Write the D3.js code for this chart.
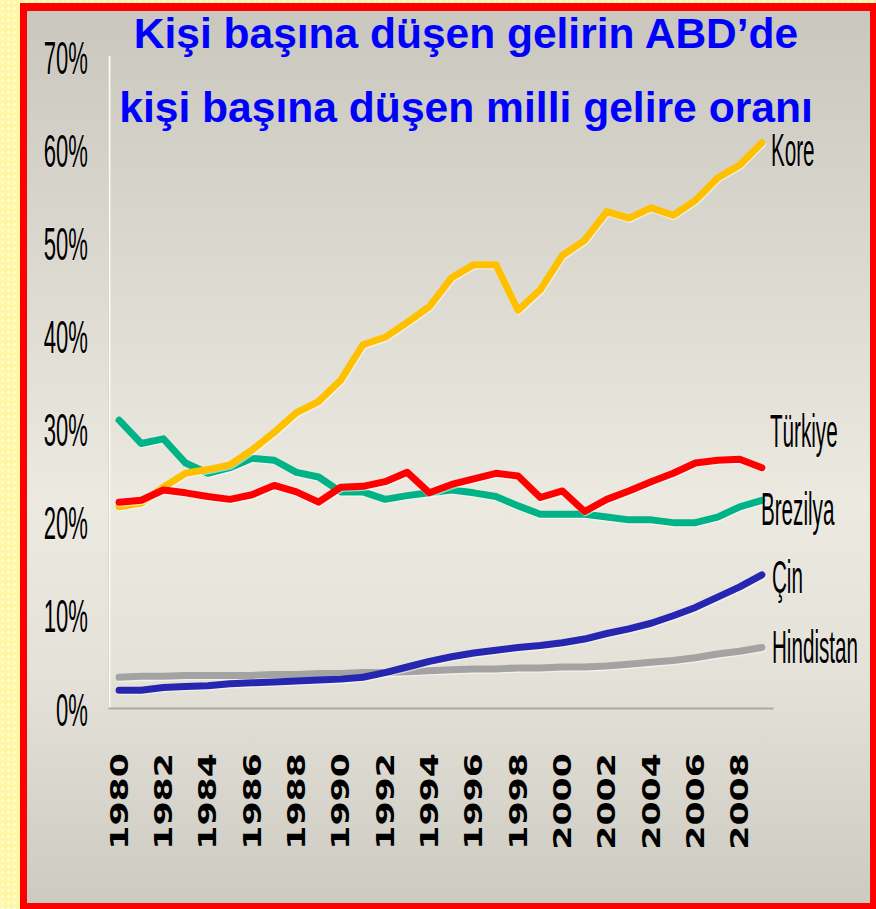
<!DOCTYPE html>
<html><head><meta charset="utf-8">
<script src="https://cdn.jsdelivr.net/npm/d3@7"></script>
<style>body{margin:0;background:#fffbb8;} svg{display:block}</style>
</head><body><svg id="c" width="876" height="909"></svg>
<script>
// ---- data ----
const years = [1980,1981,1982,1983,1984,1985,1986,1987,1988,1989,1990,1991,1992,1993,1994,1995,1996,1997,1998,1999,2000,2001,2002,2003,2004,2005,2006,2007,2008,2009];
const xTickYears = [1980,1982,1984,1986,1988,1990,1992,1994,1996,1998,2000,2002,2004,2006,2008];
const yTicks = [0,10,20,30,40,50,60,70];
const kore      = [21.6,22.0,23.7,25.2,25.6,26.1,27.7,29.6,31.7,32.9,35.2,39.0,39.8,41.4,43.1,46.2,47.6,47.6,42.7,44.9,48.6,50.2,53.3,52.6,53.7,52.9,54.5,56.9,58.3,60.7];
const turkiye   = [22.1,22.3,23.4,23.1,22.7,22.4,22.9,23.9,23.2,22.1,23.7,23.8,24.3,25.3,23.1,24.0,24.6,25.2,24.9,22.6,23.3,21.1,22.4,23.3,24.3,25.2,26.3,26.6,26.7,25.8];
const brezilya  = [30.9,28.4,28.9,26.3,25.2,25.8,26.8,26.6,25.3,24.8,23.2,23.2,22.4,22.8,23.1,23.4,23.1,22.7,21.7,20.8,20.8,20.8,20.5,20.2,20.2,19.9,19.9,20.5,21.6,22.3];
const cin       = [1.9,1.9,2.2,2.3,2.4,2.6,2.7,2.8,2.9,3.0,3.1,3.3,3.8,4.4,5.0,5.5,5.9,6.2,6.5,6.7,7.0,7.4,8.0,8.5,9.1,9.9,10.8,11.9,13.0,14.3];
const hindistan = [3.3,3.4,3.4,3.5,3.5,3.5,3.5,3.6,3.6,3.7,3.7,3.8,3.8,3.9,4.0,4.1,4.2,4.2,4.3,4.3,4.4,4.4,4.5,4.7,4.9,5.1,5.4,5.8,6.1,6.5];
const titleLines = ["Kişi başına düşen gelirin ABD’de", "kişi başına düşen milli gelire oranı"];

// ---- styling ----
const series = [
  {name:"Brezilya",  values:brezilya,  color:"#00b386", dx:-1, dy:25},
  {name:"Kore",      values:kore,      color:"#ffc000", dx:9,  dy:23},
  {name:"Türkiye",   values:turkiye,   color:"#ff0000", dx:8,  dy:-21},
  {name:"Hindistan", values:hindistan, color:"#a3a3a3", dx:10, dy:16},
  {name:"Çin",       values:cin,       color:"#2626b0", dx:10, dy:18}
];

const svg = d3.select("#c");
const defs = svg.append("defs");
const pat = defs.append("pattern").attr("id","dots").attr("width",6).attr("height",6).attr("patternUnits","userSpaceOnUse");
pat.append("rect").attr("width",6).attr("height",6).attr("fill","#fff7a6");
pat.append("rect").attr("x",2).attr("y",1).attr("width",1).attr("height",3).attr("fill","#ffffe6");
pat.append("rect").attr("x",1).attr("y",2).attr("width",3).attr("height",1).attr("fill","#ffffe6");
const grad = defs.append("linearGradient").attr("id","bg").attr("x1",0).attr("y1",0).attr("x2",0).attr("y2",1);
grad.append("stop").attr("offset","0%").attr("stop-color","#cac7be");
grad.append("stop").attr("offset","55%").attr("stop-color","#ece9e0");
grad.append("stop").attr("offset","75%").attr("stop-color","#e4e1d8");
grad.append("stop").attr("offset","100%").attr("stop-color","#cdcac2");

svg.append("rect").attr("width",876).attr("height",909).attr("fill","url(#dots)");
svg.append("rect").attr("x",20).attr("y",3).attr("width",856).attr("height",906).attr("fill","#ff0000");
svg.append("rect").attr("x",27).attr("y",11).attr("width",843).attr("height",892).attr("fill","url(#bg)");

// scales
const x = d3.scaleBand().domain(years).range([108,773]).padding(0);
const cx = d => x(d) + x.bandwidth()/2;
const y = d3.scaleLinear().domain([0,70]).range([708,56]);

// axes
const yAxis = d3.axisLeft(y).tickValues(yTicks).tickSize(0).tickFormat(d => d + "%");
const gy = svg.append("g").attr("transform","translate(108,0)").call(yAxis);
gy.select(".domain").attr("stroke","#b8b6b0").attr("stroke-width",1);
gy.append("line").attr("x1",1.5).attr("x2",1.5).attr("y1",y(70)).attr("y2",y(0)).attr("stroke","#fafaf6").attr("stroke-width",2);
gy.selectAll(".tick text")
  .attr("x",0).attr("dy",null).attr("y",0)
  .attr("transform","translate(-20,17) scale(0.47,1)")
  .attr("text-anchor","end")
  .attr("font-family","'Liberation Sans', Arial, sans-serif")
  .attr("font-size",47).attr("fill","#000")
  .attr("stroke","#ffffff").attr("stroke-width",1.2).attr("stroke-opacity",0.5).attr("paint-order","stroke");

const xAxis = d3.axisBottom(x).tickValues(xTickYears).tickSize(0);
const gx = svg.append("g").attr("transform","translate(0,708)").call(xAxis);
gx.select(".domain").attr("stroke","#a9a9a6").attr("stroke-width",2.2);
gx.selectAll(".tick text")
  .attr("x",0).attr("y",0).attr("dy",null)
  .attr("transform","translate(0,45) rotate(-90) scale(1.45,1)")
  .attr("text-anchor","end").attr("dominant-baseline","central")
  .attr("font-family","'DejaVu Sans', Verdana, sans-serif").attr("font-weight","bold")
  .attr("font-size",24).attr("fill","#000");

// lines
const line = d3.line().x((d,i) => cx(years[i])).y(d => y(d));
const gl = svg.append("g");
series.forEach(s => {
  gl.append("path").attr("d", line(s.values)).attr("fill","none")
    .attr("stroke","#ffffff").attr("stroke-opacity",0.55).attr("stroke-width",7)
    .attr("transform","translate(0.8,1.3)")
    .attr("stroke-linejoin","round").attr("stroke-linecap","round");
  gl.append("path").attr("d", line(s.values)).attr("fill","none")
    .attr("stroke", s.color).attr("stroke-width",7)
    .attr("stroke-linejoin","round").attr("stroke-linecap","round");
});

// series labels
series.forEach(s => {
  const last = s.values.length - 1;
  svg.append("text")
    .attr("transform",`translate(${cx(years[last]) + s.dx},${y(s.values[last]) + s.dy}) scale(0.44,1)`)
    .attr("font-family","'Liberation Sans', Arial, sans-serif")
    .attr("font-size",47).attr("fill","#000")
    .attr("stroke","#ffffff").attr("stroke-width",1.2).attr("stroke-opacity",0.5).attr("paint-order","stroke")
    .text(s.name);
});

// title
svg.selectAll(".title").data(titleLines).enter().append("text")
  .attr("class","title")
  .attr("x",466).attr("y",(d,i) => i === 0 ? 48 : 122)
  .attr("text-anchor","middle")
  .attr("font-family","'Liberation Sans', Arial, sans-serif")
  .attr("font-weight","bold").attr("font-size",(d,i) => i === 0 ? 42.5 : 42.6)
  .attr("fill","#0000ff")
  .text(d => d);
</script></body></html>
